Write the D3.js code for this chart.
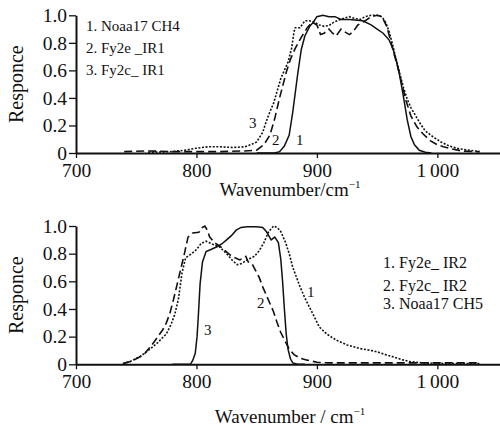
<!DOCTYPE html>
<html>
<head>
<meta charset="utf-8">
<script src="https://cdn.jsdelivr.net/npm/d3@7"></script>
<style>
 body { margin: 0; background: #fff; }
 svg { display: block; }
 text { font-family: "Liberation Serif", "Times New Roman", serif; fill: #111; }
</style>
</head>
<body>
<svg width="500" height="426"></svg>
<script>
// ticks
const xTicks = [700, 800, 900, 1000]
const yTicks = [0, 0.2, 0.4, 0.6, 0.8, 1.0]

// top panel: [wavenumber, responce]
const noaa17_ch4 = [[850,0],[865,0],[869,0.01],[873,0.05],[877,0.13],[880,0.3],[884,0.57],[887,0.75],[890,0.85],[894,0.92],[897,0.95],[900,0.99],[905,1.0],[910,0.99],[915,0.99],[920,0.97],[927,0.97],[938,0.96],[945,0.93],[950,0.9],[955,0.87],[960,0.82],[963,0.76],[966,0.67],[969,0.55],[972,0.4],[975,0.24],[978,0.12],[981,0.06],[985,0.02],[990,0.005],[995,0]]
const fy2e_ir1 = [[740,0.01],[760,0.015],[780,0.01],[800,0.01],[820,0.01],[840,0.015],[850,0.02],[856,0.06],[861,0.13],[865,0.25],[869,0.4],[872,0.5],[875,0.6],[878,0.68],[882,0.76],[887,0.84],[892,0.91],[896,0.95],[900,0.93],[903,0.86],[906,0.87],[910,0.9],[913,0.87],[916,0.85],[920,0.9],[923,0.88],[927,0.86],[930,0.88],[934,0.93],[940,0.96],[945,0.99],[950,1.0],[954,0.99],[958,0.92],[961,0.82],[964,0.72],[967,0.63],[970,0.52],[974,0.38],[978,0.27],[983,0.19],[988,0.14],[994,0.09],[1000,0.06],[1005,0.045],[1012,0.03],[1020,0.015],[1030,0.01],[1035,0.01]]
const fy2c_ir1 = [[760,0.005],[780,0.01],[790,0.02],[800,0.035],[810,0.045],[820,0.045],[830,0.04],[840,0.045],[845,0.06],[850,0.08],[855,0.15],[858,0.23],[861,0.3],[864,0.36],[867,0.45],[870,0.54],[873,0.6],[876,0.66],[879,0.76],[881,0.88],[882,0.91],[886,0.91],[890,0.96],[894,0.96],[898,0.95],[902,0.93],[906,0.92],[910,0.925],[914,0.95],[918,0.965],[923,0.98],[927,0.99],[932,0.975],[936,0.97],[940,0.99],[945,1.0],[950,1.0],[954,0.99],[957,0.95],[960,0.88],[963,0.78],[966,0.67],[969,0.57],[972,0.47],[975,0.39],[978,0.33],[982,0.27],[986,0.21],[990,0.16],[996,0.12],[1003,0.08],[1010,0.05],[1018,0.03],[1027,0.02],[1035,0.01]]

// bottom panel
const fy2e_ir2 = [[739,0.005],[745,0.02],[753,0.055],[760,0.1],[767,0.15],[775,0.22],[779,0.29],[782,0.36],[785,0.47],[788,0.66],[791,0.77],[796,0.8],[800,0.83],[804,0.875],[808,0.89],[813,0.87],[819,0.85],[825,0.8],[830,0.75],[834,0.72],[838,0.73],[842,0.755],[848,0.78],[852,0.82],[856,0.88],[860,0.96],[864,1.0],[867,0.99],[870,0.96],[874,0.88],[877,0.8],[880,0.7],[886,0.56],[890,0.48],[894,0.41],[898,0.34],[902,0.27],[908,0.22],[916,0.175],[925,0.14],[935,0.115],[945,0.1],[950,0.09],[957,0.07],[963,0.055],[970,0.035],[977,0.02],[985,0.012],[995,0.008],[1010,0.005],[1035,0.005]]
const fy2c_ir2 = [[739,0.005],[745,0.02],[750,0.04],[756,0.067],[763,0.14],[768,0.2],[772,0.25],[775,0.3],[778,0.37],[781,0.47],[784,0.58],[787,0.69],[790,0.8],[793,0.92],[797,0.95],[802,0.955],[805,0.99],[807,1.0],[809,0.97],[811,0.92],[815,0.88],[820,0.85],[824,0.82],[828,0.79],[832,0.77],[836,0.755],[839,0.77],[841,0.78],[843,0.74],[846,0.73],[849,0.68],[852,0.63],[855,0.56],[858,0.5],[861,0.44],[864,0.38],[867,0.3],[870,0.23],[874,0.16],[877,0.11],[881,0.07],[886,0.045],[892,0.03],[900,0.015],[910,0.01],[960,0.01],[1000,0.01],[1035,0.01]]
const noaa17_ch5 = [[780,0],[795,0],[797,0.03],[799,0.08],[800.5,0.2],[801.5,0.34],[803,0.58],[805,0.74],[808,0.815],[812,0.83],[817,0.85],[821,0.87],[825,0.9],[829,0.93],[833,0.97],[837,0.99],[842,0.995],[850,0.995],[855,0.99],[858,0.96],[860,0.93],[862,0.9],[865,0.92],[868,0.88],[870,0.76],[871.5,0.6],[873,0.4],[874.5,0.22],[876,0.11],[878,0.04],[880,0.01],[884,0],[890,0]]

const topLegend = ["1. Noaa17 CH4", "2. Fy2e _IR1", "3. Fy2c_ IR1"]
const botLegend = ["1. Fy2e_ IR2", "2. Fy2c_ IR2", "3. Noaa17 CH5"]

const styles = {
  solid: null,
  dashed: "8,4",
  dotted: "2,1.6"
}

var svg = d3.select("svg")
var x = d3.scaleLinear().domain([700, 1052]).range([76, 500])

function panel(y0, y1, series, legend, legendX, legendY, legendSize, nums, xlabel, labelY, sep){
  var y = d3.scaleLinear().domain([0, 1]).range([y0, y1])
  var g = svg.append("g")

  var line = d3.line().x(d => x(d[0])).y(d => y(d[1]))
  series.forEach(s => {
    g.append("path")
      .attr("d", line(s.data))
      .attr("fill", "none")
      .attr("stroke", "#111")
      .attr("stroke-width", s.style == "solid" ? 1.5 : 1.6)
      .attr("stroke-dasharray", styles[s.style])
  })

  var xa = g.append("g").attr("transform", "translate(0," + y0 + ")")
    .call(d3.axisBottom(x).tickValues(xTicks).tickSize(5).tickPadding(5).tickSizeOuter(0)
      .tickFormat(d => d == 1000 ? "1\u2009000" : d))
  var ya = g.append("g").attr("transform", "translate(76,0)")
    .call(d3.axisLeft(y).tickValues(yTicks).tickSize(7).tickPadding(2).tickSizeOuter(0)
      .tickFormat(d => d == 0 ? "0" : d.toFixed(1)))
  ;[xa, ya].forEach(a => {
    a.select(".domain").attr("stroke", "#111").attr("stroke-width", 2)
    a.selectAll(".tick line").attr("stroke", "#111").attr("stroke-width", 1.3)
    a.selectAll(".tick text").style("font-family", '"Liberation Serif", serif').style("font-size", "19.5px").attr("fill", "#111")
  })

  // curve numbers
  nums.forEach(n => {
    g.append("text").attr("x", n[0]).attr("y", n[1]).style("font-size", "15px").text(n[2])
  })

  legend.forEach((t, i) => {
    g.append("text").attr("x", legendX).attr("y", legendY + i * sep[i])
      .style("font-size", legendSize + "px").text(t)
  })

  var xl = g.append("text").attr("x", 290).attr("y", labelY)
    .attr("text-anchor", "middle").style("font-size", "19px")
  xl.append("tspan").text(xlabel)
  xl.append("tspan").attr("dy", -8).style("font-size", "11px").text("\u22121")

  g.append("text")
    .attr("transform", "translate(23," + ((y0 + y1) / 2) + ") rotate(-90)")
    .attr("text-anchor", "middle").style("font-size", "20px").text("Responce")
}

panel(153, 15.3,
  [{data: noaa17_ch4, style: "solid"}, {data: fy2e_ir1, style: "dashed"}, {data: fy2c_ir1, style: "dotted"}],
  topLegend, 86, 31, 15,
  [[249, 128, "3"], [272, 145, "2"], [296, 145, "1"]],
  "Wavenumber/cm", 196, [0, 22, 22])

panel(364.3, 226,
  [{data: fy2e_ir2, style: "dotted"}, {data: fy2c_ir2, style: "dashed"}, {data: noaa17_ch5, style: "solid"}],
  botLegend, 383, 268, 16,
  [[204, 335, "3"], [257, 308, "2"], [307, 297, "1"]],
  "Wavenumber / cm", 423, [0, 23, 20.5])
</script>
</body>
</html>
